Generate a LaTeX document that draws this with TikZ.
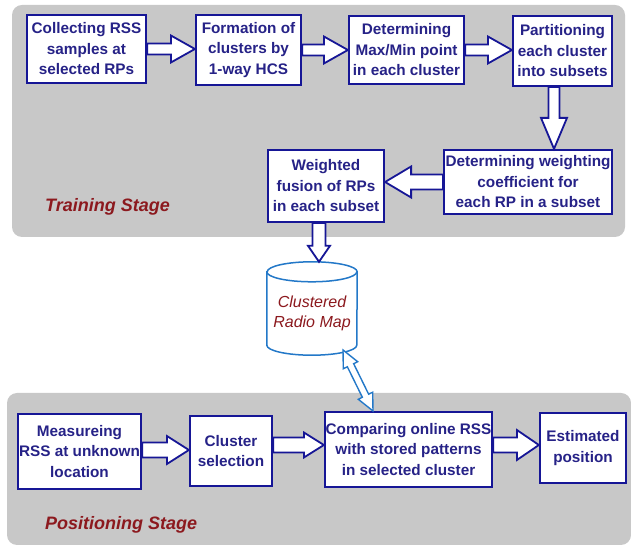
\documentclass[tikz,border=0pt]{standalone}
\usepackage{fontspec}
\setmainfont{Liberation Sans}
\usetikzlibrary{calc}
\definecolor{boxblue}{RGB}{22,22,150}
\definecolor{txtblue}{RGB}{38,34,135}
\definecolor{panelgray}{RGB}{200,200,200}
\definecolor{stagered}{RGB}{140,25,30}
\definecolor{cylblue}{RGB}{35,120,200}
\newcommand\APt[2]{({\x1+(#1)*cos(\n1)-(#2)*sin(\n1)},{\y1+(#1)*sin(\n1)+(#2)*cos(\n1)})}
% #1 style, #2 from, #3 to, #4 shaft half width, #5 head half width, #6 head length
\newcommand\sarrow[6]{%
  \draw[#1] let \p1=(#2), \p2=(#3), \n1={atan2(\y2-\y1,\x2-\x1)}, \n2={veclen(\x2-\x1,\y2-\y1)} in
  \APt{0pt}{#4} -- \APt{\n2-#6}{#4} -- \APt{\n2-#6}{#5} -- \APt{\n2}{0pt} --
  \APt{\n2-#6}{-#5} -- \APt{\n2-#6}{-#4} -- \APt{0pt}{-#4} -- cycle;}
\newcommand\darrow[6]{%
  \draw[#1] let \p1=(#2), \p2=(#3), \n1={atan2(\y2-\y1,\x2-\x1)}, \n2={veclen(\x2-\x1,\y2-\y1)} in
  \APt{0pt}{0pt} -- \APt{#6}{#5} -- \APt{#6}{#4} -- \APt{\n2-#6}{#4} -- \APt{\n2-#6}{#5} -- \APt{\n2}{0pt} --
  \APt{\n2-#6}{-#5} -- \APt{\n2-#6}{-#4} -- \APt{#6}{-#4} -- \APt{#6}{-#5} -- cycle;}
\tikzset{
  box/.style={draw=boxblue, line width=2.2pt, fill=white, text=txtblue,
    font=\bfseries\fontsize{15.3}{20.5}\selectfont, align=center, inner sep=0pt},
  blk/.style={draw=boxblue, line width=1.8pt, fill=white, line join=miter},
  dblk/.style={draw=cylblue, line width=1.4pt, fill=white, line join=miter},
  cyl/.style={draw=cylblue, line width=1.5pt},
  stage/.style={text=stagered, font=\bfseries\itshape\fontsize{18}{20}\selectfont, anchor=west, inner sep=0pt},
  panel/.style={fill=panelgray, rounded corners=10pt}
}
\begin{document}
\begin{tikzpicture}[x=1pt,y=1pt]
\useasboundingbox (0,0) rectangle (631,548);
% panels
\fill[panel] (12,311) rectangle (625,543);
\fill[panel] (7,3) rectangle (631,155);
% training boxes
\node[box, minimum width=119pt, minimum height=68pt] (b1) at (86.5,499) {Collecting RSS\\samples at\\selected RPs};
\node[box, minimum width=105pt, minimum height=70pt] (b2) at (248.5,498) {Formation of\\clusters by\\1-way HCS};
\node[box, minimum width=115pt, minimum height=68pt] (b3) at (406.5,498) {Determining\\Max/Min point\\in each cluster};
\node[box, minimum width=99pt, minimum height=70pt] (b4) at (562.5,497) {Partitioning\\each cluster\\into subsets};
\node[box, minimum width=168pt, minimum height=64pt] (b5) at (528,366) {Determining weighting\\coefficient for\\each RP in a subset};
\node[box, minimum width=116pt, minimum height=72pt] (b6) at (326,362) {Weighted\\fusion of RPs\\in each subset};
\node[stage] (ts) at (45,341) {Training Stage};
% radio map
\node[minimum width=90pt, minimum height=93pt, inner sep=0pt] (map) at (312,239.5) {};
\draw[cyl, fill=white] ([yshift=-10pt]map.north west) -- ([yshift=10pt]map.south west)
  arc[start angle=180, end angle=360, x radius=45pt, y radius=10pt]
  -- ([yshift=-10pt]map.north east)
  arc[start angle=0, end angle=180, x radius=45pt, y radius=10pt] -- cycle;
\draw[cyl] ([yshift=-10pt]map.north west) arc[start angle=180, end angle=360, x radius=45pt, y radius=10pt];
\node[text=stagered, font=\itshape\fontsize{16}{20}\selectfont, align=center, inner sep=0pt] (maplabel) at ([yshift=-4.5pt]map.center) {Clustered\\Radio Map};
% positioning boxes
\node[box, minimum width=123pt, minimum height=75pt] (b7) at (79.5,96.5) {Measureing\\RSS at unknown\\location};
\node[box, minimum width=82pt, minimum height=70pt] (b8) at (231,97) {Cluster\\selection};
\node[box, minimum width=167pt, minimum height=75pt] (b9) at (408.5,98.5) {Comparing online RSS\\with stored patterns\\in selected cluster};
\node[box, minimum width=86pt, minimum height=70pt] (b10) at (583,100) {Estimated\\position};
\node[stage] (ps) at (45,23) {Positioning Stage};
% helper coordinates
\coordinate (c45) at (554,0);
\coordinate (c6m) at (319,0);
\coordinate (r1) at (0,98);
\coordinate (r2) at (0,103);
\coordinate (dtop) at (343,198);
\coordinate (dbot) at (373,137);
% arrows
\sarrow{blk}{b1.east}{b1.east -| b2.west}{5.5pt}{13.5pt}{24pt}
\sarrow{blk}{b2.east}{b2.east -| b3.west}{5.5pt}{13.5pt}{24pt}
\sarrow{blk}{b3.east}{b3.east -| b4.west}{5.5pt}{13.5pt}{24pt}
\sarrow{blk}{b4.south -| c45}{b5.north -| c45}{5.5pt}{13pt}{31pt}
\sarrow{blk}{b5.west}{b5.west -| b6.east}{7.5pt}{15.5pt}{26pt}
\sarrow{blk}{b6.south -| c6m}{map.north -| c6m}{6.5pt}{11pt}{16pt}
\sarrow{blk}{b7.east |- r1}{b8.west |- r1}{7.5pt}{14pt}{22pt}
\sarrow{blk}{b8.east |- r2}{b9.west |- r2}{7.5pt}{12.5pt}{20pt}
\sarrow{blk}{b9.east |- r2}{b10.west |- r2}{7.5pt}{15pt}{22pt}
\darrow{dblk}{dtop}{dbot}{3.5pt}{8pt}{17pt}
\end{tikzpicture}
\end{document}
